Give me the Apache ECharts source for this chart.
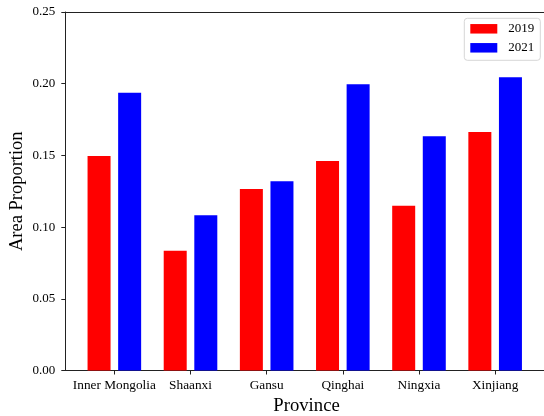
<!DOCTYPE html>
<html>
<head>
<meta charset="utf-8">
<script src="https://cdn.jsdelivr.net/npm/echarts@6/dist/echarts.min.js"></script>
<style>html,body{margin:0;padding:0;background:#fff;}#c{width:544px;height:416px;}</style>
</head>
<body>
<div id="c"></div>
<script>
var provinces = ['Inner Mongolia', 'Shaanxi', 'Gansu', 'Qinghai', 'Ningxia', 'Xinjiang'];
var values2019 = [0.1496, 0.0835, 0.1266, 0.1461, 0.1149, 0.1663];
var values2021 = [0.1937, 0.1082, 0.1319, 0.1996, 0.1633, 0.2045];
var yTicks = [0, 0.05, 0.10, 0.15, 0.20, 0.25];

var FONT = '"Liberation Serif", "Times New Roman", serif';
var positions = provinces.map(function (_, i) { return i; });

var chart = echarts.init(document.getElementById('c'), null, { renderer: 'canvas' });
chart.setOption({
  animation: false,
  backgroundColor: '#fff',
  grid: {
    left: 65.3, top: 12, right: -3.7, bottom: 45.5,
    containLabel: false, outerBoundsMode: 'none'
  },
  legend: {
    orient: 'vertical',
    left: 464.3, top: 18.3,
    padding: [4, 6, 6, 6],
    itemWidth: 27, itemHeight: 9.5, itemGap: 6,
    borderColor: '#d6d6d6', borderWidth: 1, borderRadius: 3,
    backgroundColor: 'rgba(255,255,255,0.8)',
    icon: 'rect',
    textStyle: { fontFamily: FONT, fontSize: 13, color: '#000', lineHeight: 13, padding: [0, 0, 0, 6] },
    data: ['2019', '2021']
  },
  xAxis: [{
    type: 'value',
    min: -0.644, max: 5.69,
    splitLine: { show: false },
    axisLine: { show: true, onZero: false, lineStyle: { color: '#222', width: 1 } },
    axisTick: { show: true, length: 4, lineStyle: { color: '#222' }, customValues: positions },
    axisLabel: {
      show: true, margin: 9, customValues: positions,
      fontFamily: FONT, fontSize: 13.3, color: '#000',
      formatter: function (v) { return provinces[Math.round(v)]; }
    },
    name: 'Province', nameLocation: 'middle', nameGap: 26, nameMoveOverlap: false,
    nameTextStyle: { fontFamily: FONT, fontSize: 18.7, color: '#000' }
  }, {
    type: 'value', position: 'top',
    min: -0.644, max: 5.69,
    splitLine: { show: false },
    axisLine: { show: true, onZero: false, lineStyle: { color: '#222', width: 1 } },
    axisTick: { show: false },
    axisLabel: { show: false }
  }],
  yAxis: {
    type: 'value',
    min: 0, max: 0.25, interval: 0.05,
    splitLine: { show: false },
    axisLine: { show: true, onZero: false, lineStyle: { color: '#222', width: 1 } },
    axisTick: { show: true, length: 4, lineStyle: { color: '#222' } },
    axisLabel: {
      margin: 10, fontFamily: FONT, fontSize: 13, color: '#000',
      formatter: function (v) { return v.toFixed(2); }
    },
    name: 'Area Proportion', nameLocation: 'middle', nameGap: 39, nameMoveOverlap: false,
    nameTextStyle: { fontFamily: FONT, fontSize: 18.5, color: '#000' }
  },
  series: [
    {
      name: '2019', type: 'bar', barWidth: 23, barGap: '33%',
      itemStyle: { color: '#ff0000' },
      data: values2019.map(function (v, i) { return [positions[i], v]; })
    },
    {
      name: '2021', type: 'bar', barWidth: 23, barGap: '33%',
      itemStyle: { color: '#0000ff' },
      data: values2021.map(function (v, i) { return [positions[i], v]; })
    }
  ]
});
</script>
</body>
</html>
